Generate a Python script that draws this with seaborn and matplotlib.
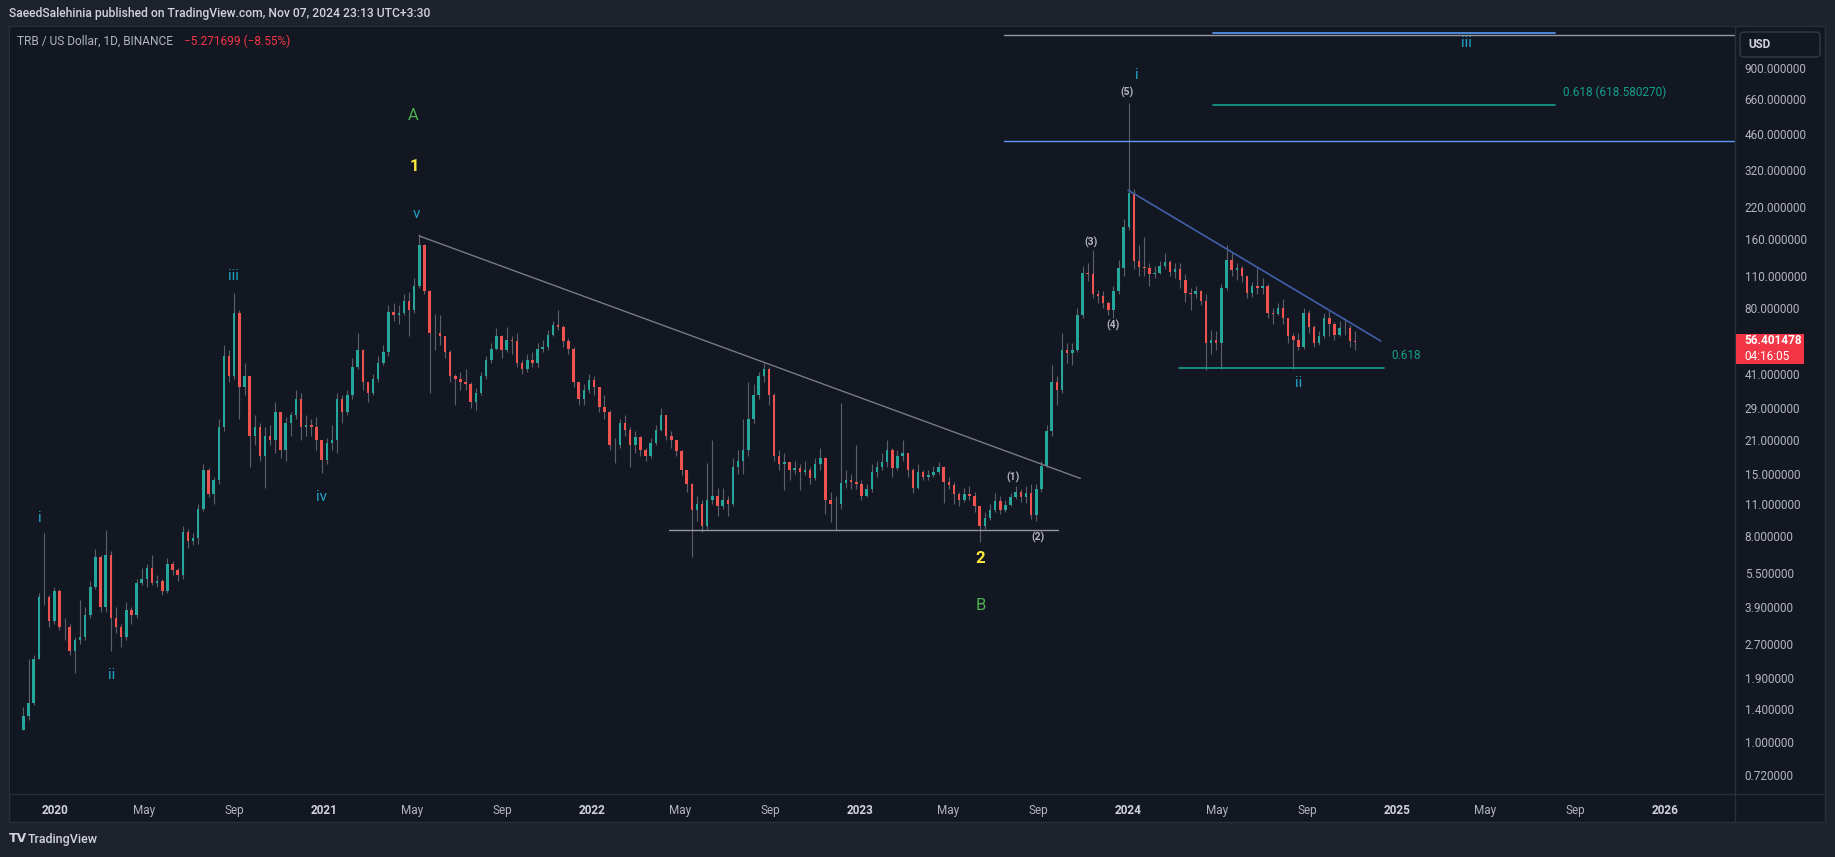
import matplotlib
matplotlib.use('Agg')
import matplotlib.dates as mdates
import matplotlib.pyplot as plt
import numpy as np
import pandas as pd
import seaborn as sns
from matplotlib.lines import Line2D
from matplotlib.patches import FancyBboxPatch, Rectangle
from matplotlib.ticker import FixedLocator, NullLocator

W, H = 1835, 857

# weekly candles, first week ends 2019-11-19
start_date = '2019-11-19'
first_open = 1.13
close = [
    1.3, 1.48, 2.3, 4.3, 4.3, 3.4, 4.6, 3.2, 3.2, 2.5,
    2.8, 2.9, 3.6, 4.8, 6.5, 3.9, 6.6, 3.5, 3.2, 2.9,
    3.8, 3.6, 5.0, 5.2, 5.8, 5.0, 5.1, 4.6, 6.0, 5.7,
    5.4, 8.3, 7.6, 7.8, 10.5, 15.5, 12.2, 14, 24, 49,
    40, 76, 36, 40, 22, 24, 18, 22, 21, 28,
    19, 25, 27, 32, 24, 24.5, 24, 21, 17.2, 20.4,
    21, 32, 28, 33, 44, 52, 38, 34, 39, 46,
    51, 77, 74, 76, 86, 78, 100, 150, 95, 62,
    62, 60, 51, 40, 39, 38, 37, 31, 34, 40,
    47, 53, 60, 52, 58, 57, 46, 43, 47, 46,
    53, 54, 61, 67, 66, 57, 53, 38, 32, 35,
    38.5, 36, 29.4, 28, 20, 20, 25, 23.4, 20, 21.7,
    19.1, 18, 20.4, 23.4, 27, 22, 21, 18.8, 15.5, 13.5,
    10.4, 11, 8.8, 11.5, 12, 10.8, 11.5, 11, 16, 17,
    19, 26, 33, 40, 43, 33, 18, 16.5, 16.8, 15.5,
    15.8, 15.3, 15.6, 14.3, 16.5, 17.5, 11.5, 11, 11, 13.6,
    14, 13.8, 13.5, 12, 12.8, 15.2, 16, 16.8, 19, 15.8,
    18, 18.5, 15.6, 13, 15.2, 14.5, 14.8, 15.3, 16, 13.8,
    13.4, 12.2, 11.5, 12.2, 12, 10.8, 8.8, 9.6, 10.4, 11.4,
    10.4, 10.9, 11.8, 12.5, 11.8, 12.4, 9.9, 12.8, 16.2, 23,
    38, 34.9, 52, 50.6, 52, 74, 114, 113, 92, 90,
    84, 78, 95, 120, 180, 255, 128, 121, 120, 113,
    114, 122, 127, 115, 118, 106, 93, 92, 95, 86,
    56, 58, 56, 98, 130, 117, 120, 110, 93, 100,
    98, 100, 76, 75, 80, 72, 60, 58, 54, 76,
    66, 56, 60, 72, 68, 61, 65, 65, 57, 56.4,
]
high = [
    1.42, 2.3, 2.4, 4.5, 8.2, 4.4, 4.8, 4.7, 3.5, 3.3,
    2.9, 4.2, 3.9, 5.1, 7.0, 6.6, 8.5, 6.9, 3.9, 3.3,
    4.1, 3.9, 5.2, 5.8, 6.0, 6.6, 5.4, 5.2, 6.4, 6.2,
    5.8, 8.8, 8.6, 8.2, 11, 16.5, 15.8, 14.5, 26, 55,
    52, 93, 78, 46, 40, 27, 25, 24, 24.5, 31,
    28, 26.5, 28, 35, 34, 27, 26, 26.5, 21, 21.5,
    24.5, 34, 33, 35, 48, 62, 53, 38, 41, 49,
    55, 82, 84, 82, 92, 94, 108, 168, 152, 96,
    75, 74, 60, 52, 41, 42, 43, 38, 35.5, 42,
    49, 56, 65, 61, 66, 60, 62, 47, 50, 51,
    56, 58, 64, 70, 78, 67, 59, 54, 38, 37,
    41, 40, 36, 33, 28.5, 21.5, 26, 27, 24, 23,
    22, 19.5, 21.5, 24.5, 29, 27, 23, 21, 19, 15.5,
    13.6, 12, 11.5, 16.7, 21, 13, 13, 12, 17.5, 19,
    26, 38, 37, 42, 46, 44, 34, 19, 18.5, 16.5,
    17, 16.5, 17, 16, 17.5, 19.5, 17.8, 12.5, 12, 30.5,
    15.5, 15, 20, 14, 13.5, 16.5, 17, 18.5, 21, 19.5,
    19, 21, 18.5, 15.8, 16.5, 15.5, 15.5, 16.2, 16.8, 16.2,
    14.5, 13.8, 12.5, 13, 13.2, 12.5, 10.8, 10.2, 11, 12.3,
    12, 11.5, 12.3, 13.3, 12.8, 13.3, 13.5, 13.5, 17, 24.5,
    45, 40, 62, 56, 56, 80, 122, 125, 143, 96,
    95, 86, 100, 130, 195, 630, 265, 150, 163, 125,
    122, 128, 139, 130, 125, 126, 112, 98, 100, 96,
    92, 64, 63, 102, 150, 140, 125, 122, 110, 104,
    121, 108, 102, 80, 84, 87, 72, 62, 62, 80,
    78, 67, 63, 76, 78, 69, 70, 72, 67, 63,
]
low = [
    1.13, 1.25, 1.45, 2.3, 4.0, 3.2, 3.3, 3.1, 2.8, 2.4,
    2.0, 2.7, 2.8, 3.5, 4.7, 3.7, 3.7, 2.5, 3.0, 2.6,
    2.8, 3.3, 3.5, 4.9, 4.8, 4.9, 4.8, 4.4, 4.5, 5.4,
    5.1, 5.2, 7.1, 7.3, 7.4, 10.3, 11.8, 11, 13.5, 23,
    38, 39, 26, 33, 16, 20, 17, 13, 20, 18.5,
    17.5, 17, 22, 26, 21, 22, 22, 19, 15.1, 16.5,
    19, 18.5, 25, 27, 32, 43, 35, 31, 33, 38,
    45, 49, 70, 68, 74, 60, 76, 98, 92, 34,
    52, 55, 48, 38, 30, 35, 35, 29, 28.5, 33,
    39, 46, 52, 48, 51, 50, 44, 41, 42, 44,
    44, 51, 52, 60, 64, 54, 50, 36, 30, 30,
    34, 33, 28, 26, 19, 16.7, 19.5, 22, 16, 18.5,
    18, 17, 17.5, 20, 23, 21, 19.5, 18, 14.8, 12.5,
    6.5, 9.3, 8.3, 8.6, 11, 9.8, 10.5, 9.8, 10.8, 15,
    15, 18, 25, 32, 38, 30, 17, 15.5, 12.7, 14,
    15, 12.7, 14.8, 13.5, 14, 15.5, 10, 9.2, 8.5, 10.5,
    13, 12.8, 12.8, 11.5, 11.8, 12.5, 14.5, 15.5, 16, 14.5,
    15.5, 17, 14.5, 12.3, 12.8, 14, 14, 14.5, 15, 11.1,
    12.8, 11, 10.8, 11.3, 11.5, 10.2, 7.5, 8.6, 9.4, 10.2,
    10, 10.2, 10.8, 11.6, 11.3, 11.2, 9.5, 9.3, 12.5, 16,
    22, 30, 34, 46, 45, 51, 72, 105, 88, 84,
    80, 74, 72, 92, 110, 175, 118, 110, 110, 100,
    108, 112, 118, 110, 108, 98, 85, 78, 88, 82,
    42.6, 50, 52, 43, 96, 110, 106, 104, 88, 89,
    92, 92, 72, 68, 74, 68, 56, 43, 52, 53,
    62, 54, 55, 59, 60, 58, 60, 61, 54, 52,
]

# y axis price ticks and time axis ticks
price_ticks = [900, 660, 460, 320, 220, 160, 110, 80, 41, 29, 21, 15, 11, 8,
               5.5, 3.9, 2.7, 1.9, 1.4, 1.0, 0.72]
time_ticks = ['2020-01-01', '2020-05-01', '2020-09-01', '2021-01-01', '2021-05-01',
              '2021-09-01', '2022-01-01', '2022-05-01', '2022-09-01', '2023-01-01',
              '2023-05-01', '2023-09-01', '2024-01-01', '2024-05-01', '2024-09-01',
              '2025-01-01', '2025-05-01', '2025-09-01', '2026-01-01']
time_labels = ['2020', 'May', 'Sep', '2021', 'May', 'Sep', '2022', 'May', 'Sep', '2023',
               'May', 'Sep', '2024', 'May', 'Sep', '2025', 'May', 'Sep', '2026']

# drawn lines
line_kind = ['trend', 'support', 'trend24', 'support24', 'level', 'top', 'fib1', 'fib618']
line_d0 = ['2021-05-11', '2022-04-16', '2024-01-01', '2024-03-10', '2023-07-16',
           '2023-07-16', '2024-04-25', '2024-04-25']
line_p0 = [165, 8.49, 262, 43.4, 430, 1254, 1280, 618.58]
line_d1 = ['2023-10-28', '2023-09-28', '2024-12-10', '2024-12-15', '2026-06-01',
           '2026-06-01', '2025-08-04', '2025-08-04']
line_p1 = [14.3, 8.49, 57.2, 43.4, 430, 1254, 1280, 618.58]

# wave labels
lab_text = ['i', 'ii', 'iii', 'iv', 'v', '1', 'A', '2', 'B', '(1)', '(2)', '(3)', '(4)',
            '(5)', 'i', 'ii', 'iii', '0.618', '0.618 (618.580270)']
lab_kind = ['minor', 'minor', 'minor', 'minor', 'minor', 'primary', 'cycle', 'primary',
            'cycle', 'sub', 'sub', 'sub', 'sub', 'sub', 'minor', 'minor', 'minor',
            'fib', 'fib']
lab_date = ['2019-12-11', '2020-03-18', '2020-08-31', '2020-12-29', '2021-05-07',
            '2021-05-04', '2021-05-03', '2023-06-14', '2023-06-15', '2023-07-28',
            '2023-09-01', '2023-11-11', '2023-12-11', '2023-12-31', '2024-01-13',
            '2024-08-20', '2025-04-05', '2024-12-24', '2025-08-15']
lab_price = [9.58, 1.97, 110, 11.85, 206, 334, 554, 6.34, 3.98, 14.5, 7.91, 155, 67.2,
             705, 837, 37.4, 1157, 49.6, 700]

BG = '#131722'
OUTER = '#1e222d'
BORDER = '#2a2e39'
UP, DOWN, WICK = '#26a69a', '#ef5350', '#5d606b'
line_style = {
    'trend': ('#787b86', 1.0), 'support': ('#9598a1', 1.0), 'trend24': ('#3f5fa8', 1.2),
    'support24': ('#159f8c', 1.2), 'level': ('#5b9cf6', 1.0), 'top': ('#9598a1', 1.0),
    'fib1': ('#5b9cf6', 1.2), 'fib618': ('#159f8c', 1.2),
}
lab_style = {
    'minor': dict(color='#1fa2c6', fontsize=11),
    'primary': dict(color='#ffeb3b', fontsize=12, fontweight='bold'),
    'cycle': dict(color='#4caf50', fontsize=12),
    'sub': dict(color='#b2b5be', fontsize=7.5, fontweight='bold'),
    'fib': dict(color='#159f8c', fontsize=8.5),
}

sns.set_style('dark')
plt.rcParams['font.family'] = ['Roboto', 'DejaVu Sans']


def fx(px):
    return px / W


def fy(py):
    return 1 - py / H


def dn(d):
    return mdates.date2num(pd.Timestamp(d))


fig = plt.figure(figsize=(W / 100, H / 100), dpi=100, facecolor=OUTER)

# chart panel frame (behind everything)
fig.patches.append(Rectangle((fx(9), fy(822)), fx(1825) - fx(9), (822 - 26) / H,
                             transform=fig.transFigure, facecolor=BG,
                             edgecolor=BORDER, lw=1, zorder=-10))

ax = fig.add_axes([fx(10), fy(794), fx(1735) - fx(10), (794 - 27) / H])
ax.set_zorder(1)
ax.set_facecolor(BG)
for s in ax.spines.values():
    s.set_visible(False)
ax.grid(False)

df = pd.DataFrame({
    'date': pd.date_range(start_date, periods=len(close), freq='7D'),
    'close': close, 'high': high, 'low': low,
})
df['open'] = df['close'].shift(1).fillna(first_open)
df['x'] = mdates.date2num(df['date'])
up = df['close'] >= df['open']

ax.vlines(df['x'], df['low'], df['high'], color=WICK, lw=0.8, zorder=2)
body_lo = df[['open', 'close']].min(axis=1)
body_hi = df[['open', 'close']].max(axis=1)
ax.bar(df['x'], body_hi - body_lo, bottom=body_lo, width=3.4,
       color=np.where(up, UP, DOWN), linewidth=0, zorder=3)

for kind, d0, p0, d1, p1 in zip(line_kind, line_d0, line_p0, line_d1, line_p1):
    c, lw = line_style[kind]
    sns.lineplot(x=[dn(d0), dn(d1)], y=[p0, p1], ax=ax, color=c, lw=lw,
                 legend=False, zorder=4)

for t, k, d, p in zip(lab_text, lab_kind, lab_date, lab_price):
    ha = 'left' if k == 'fib' else 'center'
    ax.text(dn(d), p, t, ha=ha, va='center', zorder=5, **lab_style[k])

ax.set_yscale('log')
ax.set_ylim(0.592, 1359)
x0 = dn('2020-01-01')
ax.set_xlim(x0 - 61.3, x0 + 2287.3)
ax.set_xlabel('')
ax.set_ylabel('')

ax.yaxis.tick_right()
ax.yaxis.set_major_locator(FixedLocator(price_ticks))
ax.yaxis.set_minor_locator(NullLocator())
ax.set_yticklabels([f'{v:.6f}' for v in price_ticks])
ax.tick_params(axis='y', length=0, pad=7, labelsize=8.5, labelcolor='#b2b5be')

ax.set_xticks([dn(d) for d in time_ticks])
ax.set_xticklabels(time_labels)
ax.tick_params(axis='x', length=0, pad=7, labelsize=8.5, labelcolor='#b2b5be')
for lbl in ax.get_xticklabels():
    if lbl.get_text().isdigit():
        lbl.set_color('#d1d4dc')
        lbl.set_fontweight('bold')

# panel separators
fig.lines.append(Line2D([fx(1735), fx(1735)], [fy(26), fy(822)], color=BORDER, lw=1,
                        transform=fig.transFigure, zorder=6))
fig.lines.append(Line2D([fx(9), fx(1825)], [fy(794), fy(794)], color=BORDER, lw=1,
                        transform=fig.transFigure, zorder=6))

# currency box
fig.patches.append(FancyBboxPatch((fx(1740), fy(57)), fx(1820) - fx(1740), 25 / H,
                                  boxstyle='round,pad=0,rounding_size=0.003',
                                  transform=fig.transFigure, facecolor=BG,
                                  edgecolor='#363a45', lw=1, zorder=6))
fig.text(fx(1748), fy(44), 'USD', color='#d1d4dc', fontsize=8.4, fontweight='bold',
         va='center', ha='left', zorder=7)

# last price tag
fig.patches.append(Rectangle((fx(1736), fy(364)), fx(1804) - fx(1736), 30 / H,
                             transform=fig.transFigure, facecolor='#f23645',
                             edgecolor='none', zorder=6))
fig.text(fx(1744), fy(341), '56.401478', color='white', fontsize=8.5,
         fontweight='bold', va='center', ha='left', zorder=7)
fig.text(fx(1744), fy(356), '04:16:05', color='white', fontsize=8.5,
         va='center', ha='left', zorder=7)

# header and footer
fig.text(fx(9), fy(14), 'SaeedSalehinia published on TradingView.com, Nov 07, 2024 23:13 UTC+3:30',
         color='#d1d4dc', fontsize=8.7, fontweight='medium', va='center', ha='left')
fig.text(fx(17), fy(41), 'TRB / US Dollar, 1D, BINANCE', color='#b2b5be', fontsize=8.6,
         va='center', ha='left', zorder=7)
fig.text(fx(184), fy(41), '\u22125.271699 (\u22128.55%)', color='#f23645', fontsize=8.6,
         va='center', ha='left', zorder=7)
fig.text(fx(9), fy(839), 'TV', color='#d1d4dc', fontsize=9, fontweight='bold',
         va='center', ha='left', family='DejaVu Sans')
fig.text(fx(28), fy(839), 'TradingView', color='#d1d4dc', fontsize=9,
         fontweight='medium', va='center', ha='left')

fig.savefig('out.png', dpi=100, facecolor=OUTER)
